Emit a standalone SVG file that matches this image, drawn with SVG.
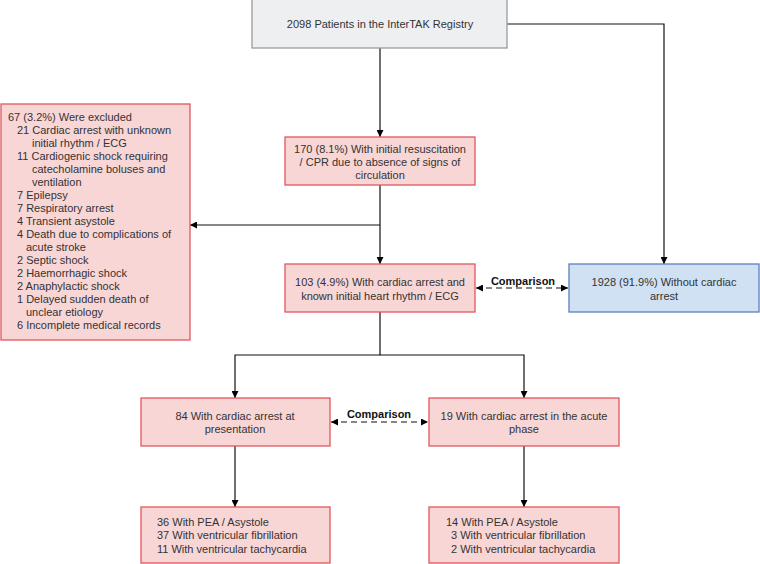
<svg xmlns="http://www.w3.org/2000/svg" width="760" height="564" viewBox="0 0 760 564">
<defs>
<marker id="ah" viewBox="0 0 10 10" refX="10" refY="5" markerWidth="7" markerHeight="7" markerUnits="userSpaceOnUse" orient="auto-start-reverse">
<path d="M0,0 L10,5 L0,10 z" fill="#000"/>
</marker>
<style>
text{font-family:"Liberation Sans",Arial,sans-serif;font-size:11px;fill:#333}
.c{text-anchor:middle}
.b{font-weight:bold;fill:#111}
.red{fill:#f9d6d6;stroke:#e0575f;stroke-width:1.3}
.blue{fill:#d0e1f3;stroke:#5b80bd;stroke-width:1.3}
.gray{fill:#eeeff1;stroke:#9a9a9a;stroke-width:1.3}
.ln{fill:none;stroke:#111;stroke-width:1.2}
.dash{stroke-dasharray:6,4}
</style>
</defs>
<rect width="760" height="564" fill="#fff"/>
<g id="connectors">
<path class="ln" d="M380,48 V137" marker-end="url(#ah)"/>
<path class="ln" d="M507,24 H664 V264" marker-end="url(#ah)"/>
<path class="ln" d="M380,185 V264" marker-end="url(#ah)"/>
<path class="ln" d="M380,225 H190" marker-end="url(#ah)"/>
<path class="ln dash" d="M476,288 H568" marker-start="url(#ah)" marker-end="url(#ah)"/>
<text class="c b" x="523" y="285">Comparison</text>
<path class="ln" d="M380,312 V355 H235 V398" marker-end="url(#ah)"/>
<path class="ln" d="M380,355 H524 V398" marker-end="url(#ah)"/>
<path class="ln dash" d="M331,422 H428" marker-start="url(#ah)" marker-end="url(#ah)"/>
<text class="c b" x="379" y="418">Comparison</text>
<path class="ln" d="M235,446 V507" marker-end="url(#ah)"/>
<path class="ln" d="M524,446 V507" marker-end="url(#ah)"/>
</g>
<g id="registry">
<rect class="gray" x="252" y="-1" width="255" height="49"/>
<text class="c" x="380" y="28">2098 Patients in the InterTAK Registry</text>
</g>
<g id="resuscitation">
<rect class="red" x="285" y="137" width="190" height="48"/>
<text class="c" x="380" y="153">170 (8.1%) With initial resuscitation</text>
<text class="c" x="380" y="166">/ CPR due to absence of signs of</text>
<text class="c" x="380" y="179">circulation</text>
</g>
<g id="excluded">
<rect class="red" x="1" y="104" width="189" height="236"/>
<text x="8" y="121">67 (3.2%) Were excluded</text>
<text x="17" y="134">21 Cardiac arrest with unknown</text>
<text x="32" y="147">initial rhythm / ECG</text>
<text x="17" y="160">11 Cardiogenic shock requiring</text>
<text x="32" y="173">catecholamine boluses and</text>
<text x="32" y="186">ventilation</text>
<text x="17" y="199">7 Epilepsy</text>
<text x="17" y="212">7 Respiratory arrest</text>
<text x="17" y="225">4 Transient asystole</text>
<text x="17" y="238">4 Death due to complications of</text>
<text x="26" y="251">acute stroke</text>
<text x="17" y="264">2 Septic shock</text>
<text x="17" y="277">2 Haemorrhagic shock</text>
<text x="17" y="290">2 Anaphylactic shock</text>
<text x="17" y="303">1 Delayed sudden death of</text>
<text x="26" y="316">unclear etiology</text>
<text x="17" y="329">6 Incomplete medical records</text>
</g>
<g id="cardiac-arrest">
<rect class="red" x="285" y="264" width="190" height="48"/>
<text class="c" x="380" y="286">103 (4.9%) With cardiac arrest and</text>
<text class="c" x="380" y="300">known initial heart rhythm / ECG</text>
</g>
<g id="no-cardiac-arrest">
<rect class="blue" x="569" y="264" width="190" height="48"/>
<text class="c" x="664" y="286">1928 (91.9%) Without cardiac</text>
<text class="c" x="664" y="300">arrest</text>
</g>
<g id="at-presentation">
<rect class="red" x="141" y="398" width="189" height="48"/>
<text class="c" x="235" y="420">84 With cardiac arrest at</text>
<text class="c" x="235" y="433">presentation</text>
</g>
<g id="acute-phase">
<rect class="red" x="429" y="398" width="190" height="48"/>
<text class="c" x="524" y="420">19 With cardiac arrest in the acute</text>
<text class="c" x="524" y="433">phase</text>
</g>
<g id="rhythm-presentation">
<rect class="red" x="141" y="507" width="189" height="56"/>
<text x="157" y="526">36 With PEA / Asystole</text>
<text x="157" y="539">37 With ventricular fibrillation</text>
<text x="157" y="553">11 With ventricular tachycardia</text>
</g>
<g id="rhythm-acute">
<rect class="red" x="429" y="507" width="190" height="56"/>
<text x="446" y="526">14 With PEA / Asystole</text>
<text x="451" y="539">3 With ventricular fibrillation</text>
<text x="451" y="553">2 With ventricular tachycardia</text>
</g>
</svg>
